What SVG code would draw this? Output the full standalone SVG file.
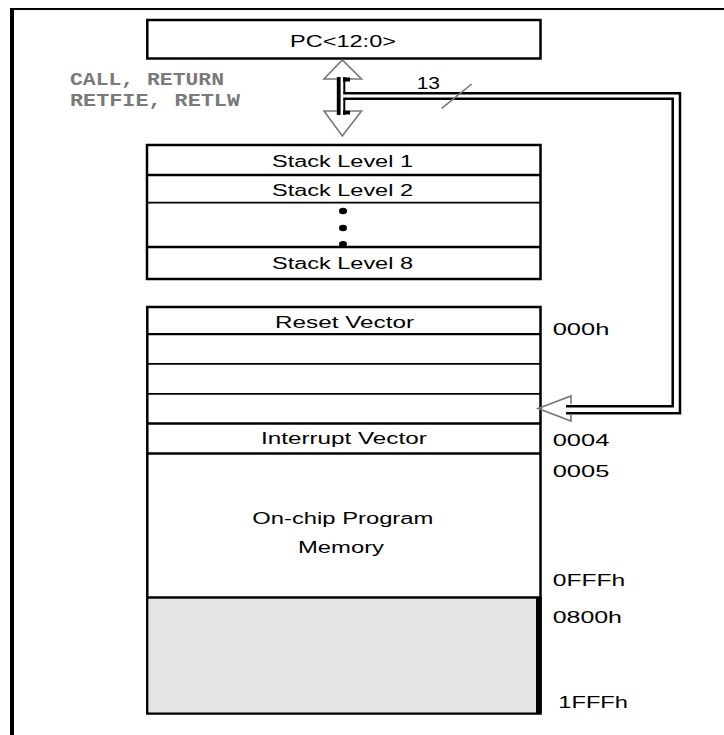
<svg xmlns="http://www.w3.org/2000/svg" width="724" height="735" viewBox="0 0 724 735">
<style>
.box{fill:#fff;stroke:#000;stroke-width:2.5}
.div{stroke:#000;stroke-width:2.3}
.thin{stroke:#000;stroke-width:1.8}
.t{font-family:"Liberation Sans",Arial,sans-serif;font-size:16px;fill:#000;text-anchor:start}
.a{font-family:"Liberation Sans",Arial,sans-serif;font-size:16px;fill:#000}
.m{font-family:"Liberation Mono","Courier New",monospace;font-size:19px;font-weight:bold;fill:#7a7a7a}
.dl{fill:none;stroke:#000;stroke-width:2.5}
.head{fill:none;stroke:#777;stroke-width:1.6;stroke-linejoin:miter}
</style>
<rect width="724" height="735" fill="#fff"/>
<g id="frame">
<line x1="10" y1="9" x2="724" y2="9" stroke="#000" stroke-width="2.2"/>
<line x1="12" y1="8" x2="12" y2="735" stroke="#000" stroke-width="4"/>
</g>
<g id="pc">
<rect class="box" x="147.3" y="20" width="393.2" height="38.5" stroke-width="2.7"/>
<text class="t" x="290" y="47" textLength="106" lengthAdjust="spacingAndGlyphs">PC&lt;12:0&gt;</text>
</g>
<g id="call-label">
<text class="m" x="70" y="84.5" textLength="154" lengthAdjust="spacingAndGlyphs">CALL, RETURN</text>
<text class="m" x="70" y="105.5" textLength="170" lengthAdjust="spacingAndGlyphs">RETFIE, RETLW</text>
</g>
<g id="stack">
<rect class="box" x="147" y="145" width="393.5" height="134" stroke-width="2"/>
<line class="div" x1="147" y1="175" x2="540.5" y2="175" stroke-width="2"/>
<line class="thin" x1="147" y1="202.7" x2="540.5" y2="202.7" stroke-width="1.4"/>
<line class="div" x1="147" y1="247" x2="540.5" y2="247" stroke-width="2"/>
<text class="t" x="272" y="166.5" textLength="141" lengthAdjust="spacingAndGlyphs">Stack Level 1</text>
<text class="t" x="272" y="195.5" textLength="141" lengthAdjust="spacingAndGlyphs">Stack Level 2</text>
<ellipse cx="343" cy="211" rx="4" ry="3.2" fill="#000"/>
<ellipse cx="343" cy="228" rx="4" ry="3.2" fill="#000"/>
<ellipse cx="343" cy="244" rx="4" ry="3" fill="#000"/>
<text class="t" x="272" y="269" textLength="141" lengthAdjust="spacingAndGlyphs">Stack Level 8</text>
</g>
<g id="memory">
<rect class="box" x="147.3" y="307" width="393.2" height="406.5"/>
<rect x="148.7" y="598.7" width="387.3" height="113.6" fill="#e5e5e5"/>
<line class="div" x1="147.3" y1="334.2" x2="540.5" y2="334.2"/>
<line class="thin" x1="147.3" y1="363.9" x2="540.5" y2="363.9"/>
<line class="thin" x1="147.3" y1="393.9" x2="540.5" y2="393.9"/>
<line class="div" x1="147.3" y1="423.5" x2="540.5" y2="423.5"/>
<line class="div" x1="147.3" y1="453.5" x2="540.5" y2="453.5"/>
<line class="div" x1="147.3" y1="597.5" x2="540.5" y2="597.5" stroke-width="2.5"/>
<rect x="536" y="597" width="5.7" height="116" fill="#000"/>
<text class="t" x="275" y="327.7" textLength="139" lengthAdjust="spacingAndGlyphs">Reset Vector</text>
<text class="t" x="261" y="444.3" textLength="165.7" lengthAdjust="spacingAndGlyphs">Interrupt Vector</text>
<text class="t" x="252.3" y="523.5" textLength="181" lengthAdjust="spacingAndGlyphs">On-chip Program</text>
<text class="t" x="298" y="553" textLength="86" lengthAdjust="spacingAndGlyphs">Memory</text>
</g>
<g id="addresses">
<text class="a" x="552.7" y="335.3" textLength="56.6" lengthAdjust="spacingAndGlyphs">000h</text>
<text class="a" x="552.7" y="446" textLength="56.6" lengthAdjust="spacingAndGlyphs">0004</text>
<text class="a" x="552.7" y="476.5" textLength="56.6" lengthAdjust="spacingAndGlyphs">0005</text>
<text class="a" x="552.7" y="585.7" textLength="72.6" lengthAdjust="spacingAndGlyphs">0FFFh</text>
<text class="a" x="552.7" y="622.7" textLength="69.3" lengthAdjust="spacingAndGlyphs">0800h</text>
<text class="a" x="558.3" y="707.7" textLength="69.7" lengthAdjust="spacingAndGlyphs">1FFFh</text>
</g>
<g id="connectors">
<line x1="338.7" y1="77" x2="338.7" y2="115" stroke="#000" stroke-width="3.8"/>
<line x1="344.3" y1="77" x2="344.3" y2="93.3" stroke="#000" stroke-width="2"/>
<line x1="344.3" y1="98.7" x2="344.3" y2="115" stroke="#000" stroke-width="2"/>
<line x1="343" y1="79.5" x2="350" y2="79.5" stroke="#000" stroke-width="4"/>
<line x1="343" y1="112.5" x2="350" y2="112.5" stroke="#000" stroke-width="4"/>
<polyline class="head" points="337,79 324,79 342.3,60 361.5,79 350,79"/>
<polyline class="head" points="337,111 324,111 342.3,136 361.5,111 350,111"/>
<polyline class="dl" points="343.3,93.3 680,93.3 680,413.3 566,413.3" stroke-width="2.4"/>
<polyline class="dl" points="343.3,98.7 672.7,98.7 672.7,406.3 566,406.3" stroke-width="2.6"/>
<polyline class="head" points="571,404 571,396 538,408.5 571,421 571,415"/>
<line x1="441.7" y1="108.3" x2="471.7" y2="84" stroke="#777" stroke-width="1.6"/>
<text class="a" x="416.7" y="89.3" textLength="23.3" lengthAdjust="spacingAndGlyphs">13</text>
</g>
</svg>
